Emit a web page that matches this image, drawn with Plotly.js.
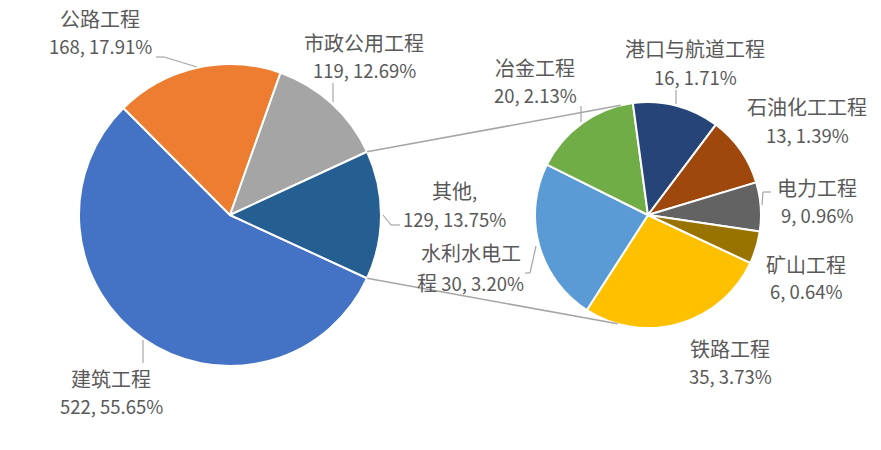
<!DOCTYPE html>
<html><head><meta charset="utf-8">
<script src="https://cdn.plot.ly/plotly-3.0.1.min.js"></script>
<style>html,body{margin:0;padding:0;background:#fff}</style>
</head><body><div id="chart" style="width:881px;height:450px"></div>
<script>
// ---- data ----
const mainLabels = ['建筑工程','公路工程','市政公用工程','其他'];
const mainValues = [522, 168, 119, 129];
const mainColors = ['#4472C4','#ED7D31','#A5A5A5','#255E91'];
const subLabels = ['铁路工程','水利水电工程','冶金工程','港口与航道工程','石油化工工程','电力工程','矿山工程'];
const subValues = [35, 30, 20, 16, 13, 9, 6];
const subColors = ['#FFC000','#5B9BD5','#70AD47','#264478','#9E480E','#636363','#997300'];

// ---- layout geometry ----
const W = 881, H = 450;
const mainPie = {cx: 230, cy: 215, r: 151};
const subPie = {cx: 648, cy: 215, r: 113};
const total = mainValues.reduce((a,b)=>a+b,0);
const otherIdx = mainLabels.indexOf('其他');
const otherFrac = mainValues[otherIdx] / total;
const mainRotation = 90 + otherFrac * 180;
const subRotation = 115.1;

function dom(p){
  return {x:[(p.cx-p.r)/W,(p.cx+p.r)/W], y:[1-(p.cy+p.r)/H, 1-(p.cy-p.r)/H]};
}
const px = x => x / W, py = y => 1 - y / H;

const traces = [
  {type:'pie', labels: mainLabels, values: mainValues, sort:false, direction:'clockwise',
   rotation: mainRotation, domain: dom(mainPie), textinfo:'none', hoverinfo:'label+value+percent',
   marker:{colors: mainColors, line:{color:'#FFFFFF', width:2}}, showlegend:false},
  {type:'pie', labels: subLabels, values: subValues, sort:false, direction:'clockwise',
   rotation: subRotation, domain: dom(subPie), textinfo:'none', hoverinfo:'label+value',
   marker:{colors: subColors, line:{color:'#FFFFFF', width:2}}, showlegend:false}
];

// ---- labels (two lines each) ----
function labelLines(name, v){
  const pct = (v / total * 100).toFixed(2) + '%';
  if (name === '其他') return [name + ',', v + ', ' + pct];
  if (name === '水利水电工程') return [name.slice(0,5), name.slice(5) + ' ' + v + ', ' + pct];
  return [name, v + ', ' + pct];
}
const labelPos = {
  '建筑工程':[111,378,406], '公路工程':[100,18,46], '市政公用工程':[364,42,70], '其他':[454,191,219],
  '铁路工程':[730,348,376], '水利水电工程':[471,253,282], '冶金工程':[535,68,95],
  '港口与航道工程':[695,48,77], '石油化工工程':[807,107,135], '电力工程':[817,187,215],
  '矿山工程':[806,264,291]
};
const fam = '"Noto Sans CJK SC", "Noto Sans", sans-serif';
const annotations = [];
mainLabels.concat(subLabels).forEach((name,i)=>{
  const v = i < mainLabels.length ? mainValues[i] : subValues[i-mainLabels.length];
  const lines = labelLines(name, v);
  const p = labelPos[name];
  lines.forEach((t,k)=>{
    const txt = t.replace(/([\u4e00-\u9fff]+)/g, '<span style="font-size:20px">$1</span>');
    annotations.push({xref:'paper', yref:'paper', x:px(p[0]), y:py(p[1+k]), text:txt,
      showarrow:false, xanchor:'center', yanchor:'middle',
      font:{family:fam, size:18.5, color:'#595959'}});
  });
});

// ---- connector lines between pies ----
function onCircle(p, deg){
  const a = deg*Math.PI/180;
  return [p.cx + p.r*Math.sin(a), p.cy - p.r*Math.cos(a)];
}
const otherStart = mainRotation - otherFrac*360;
const topL = onCircle(mainPie, otherStart), botL = onCircle(mainPie, mainRotation);
const topR = onCircle(subPie, -14), botR = onCircle(subPie, 195.6);
const shapes = [];
function seg(a,b,w,c){
  shapes.push({type:'line', xref:'paper', yref:'paper', x0:px(a[0]), y0:py(a[1]), x1:px(b[0]), y1:py(b[1]),
    line:{color:c||'#A6A6A6', width:w||1.3}, layer:'above'});
}
seg(topL, topR, 1.5); seg(botL, botR, 1.5);
// leader lines
const leaders = [
  [[197,67],[164,57],[156,57]],
  [[333,102],[333,83]],
  [[383,215],[391,225],[400,225]],
  [[143,340],[143,363]],
  [[536,246],[530,273],[525,273]],
  [[581,122],[581,106]],
  [[676,104],[676,90]],
  [[762,205],[763,192],[771,192]]
];
leaders.forEach(l=>{ for(let i=0;i<l.length-1;i++) seg(l[i], l[i+1], 1.2); });

const layout = {width:W, height:H, margin:{l:0,r:0,t:0,b:0}, paper_bgcolor:'#FFFFFF',
  plot_bgcolor:'#FFFFFF', annotations: annotations, shapes: shapes, showlegend:false};
Plotly.newPlot('chart', traces, layout, {displayModeBar:false, staticPlot:true});
</script></body></html>
